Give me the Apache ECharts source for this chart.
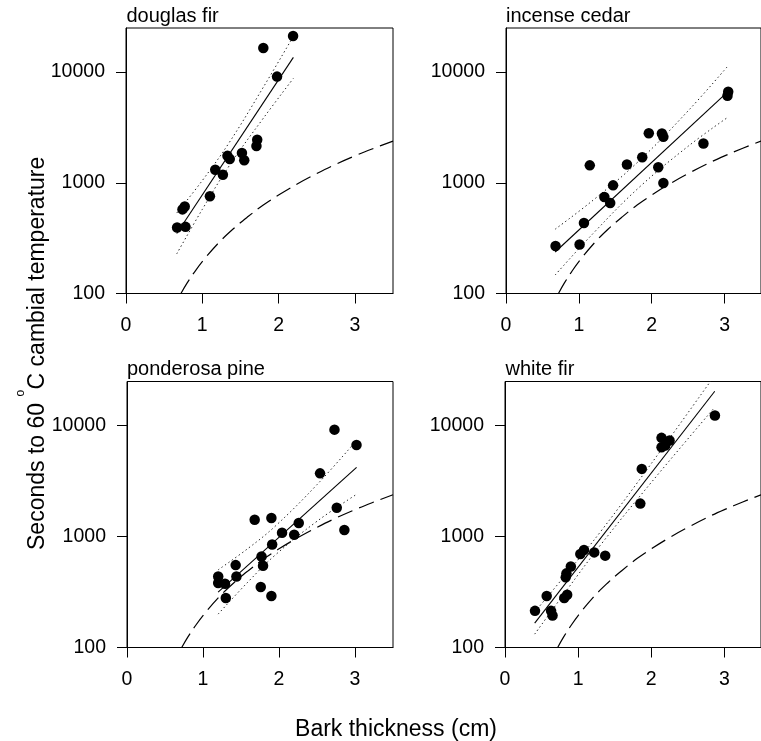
<!DOCTYPE html>
<html><head><meta charset="utf-8">
<script src="https://cdn.jsdelivr.net/npm/echarts@6/dist/echarts.min.js"></script>
<style>html,body{margin:0;padding:0;background:#fff}#c{width:761px;height:741px}</style>
</head><body><div id="c"></div>
<script>
// ---- tick labels / categories ----
const panelNames = ['douglas fir', 'incense cedar', 'ponderosa pine', 'white fir'];
const xTicks = [0, 1, 2, 3];
const yTicks = [100, 1000, 10000];

// ---- observations (bark thickness cm, seconds) ----
const douglasX = [0.67, 0.78, 0.74, 0.77, 1.10, 1.17, 1.27, 1.33, 1.36, 1.52, 1.55, 1.71, 1.72, 1.80, 1.98, 2.19];
const douglasY = [395, 400, 575, 610, 755, 1310, 1180, 1750, 1640, 1860, 1600, 2150, 2450, 16500, 9100, 21200];
const cedarX = [0.68, 1.01, 1.07, 1.15, 1.35, 1.43, 1.47, 1.66, 1.87, 1.96, 2.09, 2.14, 2.16, 2.16, 2.71, 3.04, 3.05];
const cedarY = [269, 277, 434, 1437, 745, 657, 948, 1461, 1701, 2805, 1379, 2785, 2598, 997, 2262, 6105, 6630];
const ponderosaX = [1.20, 1.20, 1.29, 1.30, 1.43, 1.44, 1.68, 1.76, 1.77, 1.79, 1.90, 1.90, 1.91, 2.04, 2.20, 2.26, 2.54, 2.73, 2.76, 2.86, 3.02];
const ponderosaY = [437, 381, 376, 279, 553, 437, 1419, 351, 662, 546, 1469, 291, 849, 1083, 1040, 1325, 3715, 9200, 1820, 1146, 6700];
const whiteX = [0.41, 0.57, 0.63, 0.65, 0.81, 0.85, 0.83, 0.84, 0.90, 1.03, 1.08, 1.22, 1.37, 1.85, 1.87, 2.14, 2.14, 2.19, 2.25, 2.87];
const whiteY = [214, 291, 214, 194, 279, 299, 429, 466, 538, 697, 757, 720, 673, 1982, 4074, 7762, 6383, 6607, 7345, 12330];

// ---- fitted lines (end points) ----
const douglasFitX = [0.665, 2.194];   const douglasFitY = [348, 13580];
const cedarFitX = [0.675, 3.05];      const cedarFitY = [237, 6700];
const ponderosaFitX = [1.199, 3.021]; const ponderosaFitY = [316, 4207];
const whiteFitX = [0.406, 2.868];     const whiteFitY = [166, 20420];

// ---- confidence bands (read at a few x positions) ----
const douglasCiX = [0.665, 1.0, 1.354, 1.8, 2.194];
const douglasCiUpper = [533, 1047, 2312, 7295, 21040];
const douglasCiLower = [228, 575, 1426, 3828, 8770];
const cedarCiX = [0.675, 1.2, 1.822, 2.5, 3.05];
const cedarCiUpper = [381, 700, 1567, 4467, 11430];
const cedarCiLower = [147, 351, 902, 2138, 3926];
const ponderosaCiX = [1.199, 1.6, 1.951, 2.5, 3.021];
const ponderosaCiUpper = [501, 789, 1242, 2938, 7362];
const ponderosaCiLower = [200, 395, 682, 1374, 2404];
const whiteCiX = [0.406, 0.85, 1.324, 2.0, 2.868];
const whiteCiUpper = [209, 470, 1146, 4550, 28440];
const whiteCiLower = [132, 333, 869, 3076, 14660];

// ---- dashed reference curve (same in every panel) ----
const refX = [0.72, 0.8, 0.9, 1.0, 1.2, 1.4, 1.6, 1.8, 2.0, 2.25, 2.5, 2.75, 3.0, 3.25, 3.5];
const refY = [100, 124, 157, 194, 280, 380, 495, 630, 775, 980, 1210, 1470, 1750, 2050, 2380];

const FONT = '"Liberation Sans", Arial, Helvetica, sans-serif';
const panels = [
  {x: douglasX, y: douglasY, fx: douglasFitX, fy: douglasFitY, cx: douglasCiX, cu: douglasCiUpper, cl: douglasCiLower},
  {x: cedarX, y: cedarY, fx: cedarFitX, fy: cedarFitY, cx: cedarCiX, cu: cedarCiUpper, cl: cedarCiLower},
  {x: ponderosaX, y: ponderosaY, fx: ponderosaFitX, fy: ponderosaFitY, cx: ponderosaCiX, cu: ponderosaCiUpper, cl: ponderosaCiLower},
  {x: whiteX, y: whiteY, fx: whiteFitX, fy: whiteFitY, cx: whiteCiX, cu: whiteCiUpper, cl: whiteCiLower}
];
const gridPos = [
  {left: 126, top: 28, width: 267, height: 265.5},
  {left: 506, top: 28, width: 267, height: 265.5},
  {left: 127, top: 381.5, width: 266, height: 266},
  {left: 505, top: 381.5, width: 267, height: 266}
];
const titlePos = [[126.5, 16], [506, 16], [127, 369.5], [505.5, 369.5]];
const zip = (a, b) => a.map((v, k) => [v, b[k]]);

const option = {
  animation: false,
  backgroundColor: '#fff',
  textStyle: {fontFamily: FONT},
  grid: [], xAxis: [], yAxis: [], series: [], graphic: []
};

panels.forEach((p, i) => {
  option.grid.push(Object.assign({show: true, borderColor: '#000', borderWidth: 1, backgroundColor: 'transparent'}, gridPos[i]));
  option.xAxis.push({
    type: 'value', gridIndex: i, min: 0, max: 3.5,
    axisLine: {show: true, onZero: false, lineStyle: {color: '#000', width: 1}},
    axisTick: {show: true, length: 10, customValues: xTicks, lineStyle: {color: '#000', width: 1}},
    axisLabel: {customValues: xTicks, fontSize: 19.5, color: '#000', margin: 22, fontFamily: FONT,
      formatter: v => String(Math.round(v))},
    splitLine: {show: false}
  });
  option.yAxis.push({
    type: 'log', logBase: 10, gridIndex: i, min: 100, max: 25000,
    axisLine: {show: true, onZero: false, lineStyle: {color: '#000', width: 1}},
    axisTick: {show: true, length: 10, customValues: yTicks, lineStyle: {color: '#000', width: 1}},
    axisLabel: {customValues: yTicks, fontSize: 19.5, color: '#000', margin: 21, fontFamily: FONT,
      formatter: v => String(Math.round(v))},
    splitLine: {show: false}, minorTick: {show: false}, minorSplitLine: {show: false}
  });
  const base = {xAxisIndex: i, yAxisIndex: i, silent: true, symbol: 'none', clip: true};
  option.series.push(Object.assign({}, base, {
    type: 'line', data: zip(refX, refY), smooth: 0.4, z: 2,
    lineStyle: {color: '#000', width: 1.2, type: [16, 7]}
  }));
  option.series.push(Object.assign({}, base, {
    type: 'line', data: zip(p.cx, p.cu), smooth: 0.4, z: 3,
    lineStyle: {color: '#222', width: 1, type: [1.4, 2.8]}
  }));
  option.series.push(Object.assign({}, base, {
    type: 'line', data: zip(p.cx, p.cl), smooth: 0.4, z: 3,
    lineStyle: {color: '#222', width: 1, type: [1.4, 2.8]}
  }));
  option.series.push(Object.assign({}, base, {
    type: 'line', data: zip(p.fx, p.fy), z: 4,
    lineStyle: {color: '#000', width: 1.1, type: 'solid'}
  }));
  option.series.push({
    type: 'scatter', xAxisIndex: i, yAxisIndex: i, silent: true, z: 5,
    data: zip(p.x, p.y), symbol: 'circle', symbolSize: 10.5,
    itemStyle: {color: '#000', opacity: 1}
  });
  option.graphic.push({
    type: 'text', x: titlePos[i][0], y: titlePos[i][1], silent: true,
    style: {text: panelNames[i], font: '20px ' + FONT, fill: '#000', align: 'left', verticalAlign: 'middle'}
  });
});

// axis titles
const AX_FONT = '23px ' + FONT;
const SUP_FONT = '12px ' + FONT;
const ctx = document.createElement('canvas').getContext('2d');
ctx.font = AX_FONT;
const part1 = 'Seconds to 60 ';
const part2 = 'C cambial temperature';
const w1 = ctx.measureText(part1).width;
ctx.font = SUP_FONT;
const wSup = ctx.measureText('o').width;

option.graphic.push({
  type: 'group', x: 38, y: 550, rotation: Math.PI / 2, silent: true,
  children: [
    {type: 'text', x: 0, y: 0, style: {text: part1, font: AX_FONT, fill: '#000', align: 'left', verticalAlign: 'middle'}},
    {type: 'text', x: w1, y: -17, style: {text: 'o', font: SUP_FONT, fill: '#000', align: 'left', verticalAlign: 'middle'}},
    {type: 'text', x: w1 + wSup + 0.5, y: 0, style: {text: part2, font: AX_FONT, fill: '#000', align: 'left', verticalAlign: 'middle'}}
  ]
});
option.graphic.push({
  type: 'text', x: 396, y: 730, silent: true,
  style: {text: 'Bark thickness (cm)', font: AX_FONT, fill: '#000', align: 'center', verticalAlign: 'middle'}
});

const chart = echarts.init(document.getElementById('c'), null, {renderer: 'canvas'});
chart.setOption(option);
</script>
</body></html>
